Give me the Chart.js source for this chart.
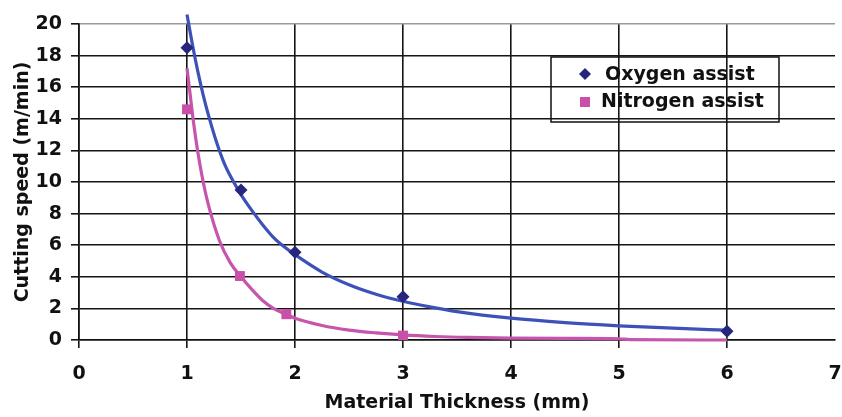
<!DOCTYPE html>
<html>
<head>
<meta charset="utf-8">
<script src="https://cdn.jsdelivr.net/npm/chart.js@4.4.1/dist/chart.umd.min.js"></script>
<style>
  html, body { margin: 0; padding: 0; background: #ffffff; }
  #wrap { width: 842px; height: 417px; }
</style>
</head>
<body>
<div id="wrap"><canvas id="c" width="842" height="417"></canvas></div>
<script>
// ---- data ----
const oxygenX = [1, 1.5, 2, 3, 6];
const oxygenY = [18.5, 9.5, 5.55, 2.74, 0.55];
const nitrogenX = [1, 1.49, 1.92, 3];
const nitrogenY = [14.6, 4.05, 1.63, 0.28];

// trend curves
const oxyCurveX = [1.0, 1.05, 1.1, 1.15, 1.2, 1.27, 1.35, 1.44, 1.5, 1.6, 1.7, 1.8, 1.9, 2.0, 2.25, 2.5, 2.75, 3.0, 3.25, 3.5, 4.0, 4.5, 5.0, 5.5, 6.0];
const oxyCurveY = [20.6, 18.7, 17.0, 15.5, 14.2, 12.6, 11.1, 9.9, 9.2, 8.2, 7.3, 6.5, 5.9, 5.4, 4.3, 3.5, 2.9, 2.45, 2.1, 1.8, 1.38, 1.1, 0.9, 0.75, 0.62];
const nitCurveX = [1.0, 1.03, 1.06, 1.1, 1.15, 1.2, 1.3, 1.4, 1.5, 1.6, 1.7, 1.8, 1.92, 2.0, 2.25, 2.5, 2.75, 3.0, 3.3, 3.6, 4.0, 4.5, 5.0, 5.1, 6.0];
const nitCurveY = [17.2, 15.5, 13.8, 11.9, 10.0, 8.5, 6.3, 4.9, 4.0, 3.2, 2.5, 2.0, 1.62, 1.38, 0.92, 0.63, 0.45, 0.32, 0.22, 0.16, 0.12, 0.1, 0.08, 0.02, 0.0];

const xTicks = [0, 1, 2, 3, 4, 5, 6, 7];
const yTicks = [0, 2, 4, 6, 8, 10, 12, 14, 16, 18, 20];
const seriesNames = ['Oxygen assist', 'Nitrogen assist'];
const xTitle = 'Material Thickness (mm)';
const yTitle = 'Cutting speed (m/min)';

const toPts = (xs, ys) => xs.map((x, i) => ({x: x, y: ys[i]}));

const FONT = {family: 'DejaVu Sans', size: 19, weight: 'bold'};
const OXY_MARK = '#26267f';
const OXY_LINE = '#3d52b9';
const NIT_MARK = '#c94fa9';
const NIT_LINE = '#c656ad';

const legendPlugin = {
  id: 'boxLegend',
  afterDatasetsDraw(chart) {
    const ctx = chart.ctx;
    ctx.save();
    ctx.strokeStyle = '#111';
    ctx.lineWidth = 1.5;
    ctx.strokeRect(551, 57, 228, 65);
    ctx.font = 'bold 19px "DejaVu Sans"';
    ctx.textBaseline = 'middle';
    ctx.textAlign = 'left';
    // entry 1: diamond
    ctx.fillStyle = OXY_MARK;
    ctx.beginPath();
    ctx.moveTo(585 - 6, 74); ctx.lineTo(585, 74 - 6); ctx.lineTo(585 + 6, 74); ctx.lineTo(585, 74 + 6);
    ctx.closePath(); ctx.fill();
    ctx.fillStyle = '#111';
    ctx.fillText(seriesNames[0], 605, 75);
    // entry 2: square
    ctx.fillStyle = NIT_MARK;
    ctx.fillRect(580, 97, 10, 10);
    ctx.fillStyle = '#111';
    ctx.fillText(seriesNames[1], 601, 102.5);
    ctx.restore();
  }
};

new Chart(document.getElementById('c'), {
  type: 'scatter',
  data: {
    datasets: [
      { label: seriesNames[0], data: toPts(oxygenX, oxygenY), pointStyle: 'rectRot', pointRadius: 6.5,
        backgroundColor: OXY_MARK, borderColor: OXY_MARK, borderWidth: 0, showLine: false },
      { label: seriesNames[1], data: toPts(nitrogenX, nitrogenY), pointStyle: 'rect', pointRadius: 7,
        backgroundColor: NIT_MARK, borderColor: NIT_MARK, borderWidth: 0, showLine: false },
      { label: 'oxyfit', data: toPts(oxyCurveX, oxyCurveY), showLine: true, pointRadius: 0,
        borderColor: OXY_LINE, borderWidth: 3.2, cubicInterpolationMode: 'monotone', clip: false, fill: false },
      { label: 'nitfit', data: toPts(nitCurveX, nitCurveY), showLine: true, pointRadius: 0,
        borderColor: NIT_LINE, borderWidth: 3.2, cubicInterpolationMode: 'monotone', clip: false, fill: false }
    ]
  },
  options: {
    responsive: false,
    animation: false,
    devicePixelRatio: 1,
    layout: { padding: { top: 24, right: 3, left: 0, bottom: 0 } },
    plugins: { legend: { display: false }, tooltip: { enabled: false } },
    scales: {
      x: {
        type: 'linear', min: 0, max: 7,
        afterBuildTicks: (s) => { s.ticks = xTicks.map(v => ({value: v})); },
        afterFit: (s) => { s.height = 77; s.paddingLeft = 0; s.paddingRight = 0; },
        ticks: { font: FONT, color: '#111', padding: 15, maxRotation: 0, autoSkip: false },
        grid: {
          color: (c) => (c.tick && c.tick.value === 7) ? 'rgba(0,0,0,0)' : '#151515',
          tickColor: (c) => (c.tick && c.tick.value === 7) ? 'rgba(0,0,0,0)' : '#151515',
          lineWidth: 1.6, tickLength: 8, drawTicks: true
        },
        border: { color: '#111', width: 1.6 },
        title: { display: true, text: xTitle, font: FONT, color: '#111', padding: { top: 0, bottom: 3 } }
      },
      y: {
        type: 'linear', min: 0, max: 20,
        afterBuildTicks: (s) => { s.ticks = yTicks.map(v => ({value: v})); },
        afterFit: (s) => { s.width = 79; s.paddingTop = 0; s.paddingBottom = 0; },
        ticks: { font: FONT, color: '#111', padding: 9, autoSkip: false },
        grid: {
          color: (c) => (c.tick && c.tick.value === 20) ? '#9a9a9a' : '#151515',
          tickColor: '#151515',
          lineWidth: 1.6, tickLength: 8, drawTicks: true
        },
        border: { color: '#111', width: 1.6 },
        title: { display: true, text: yTitle, font: FONT, color: '#111', padding: { top: 12, bottom: 0 } }
      }
    }
  },
  plugins: [legendPlugin]
});
</script>
</body>
</html>
